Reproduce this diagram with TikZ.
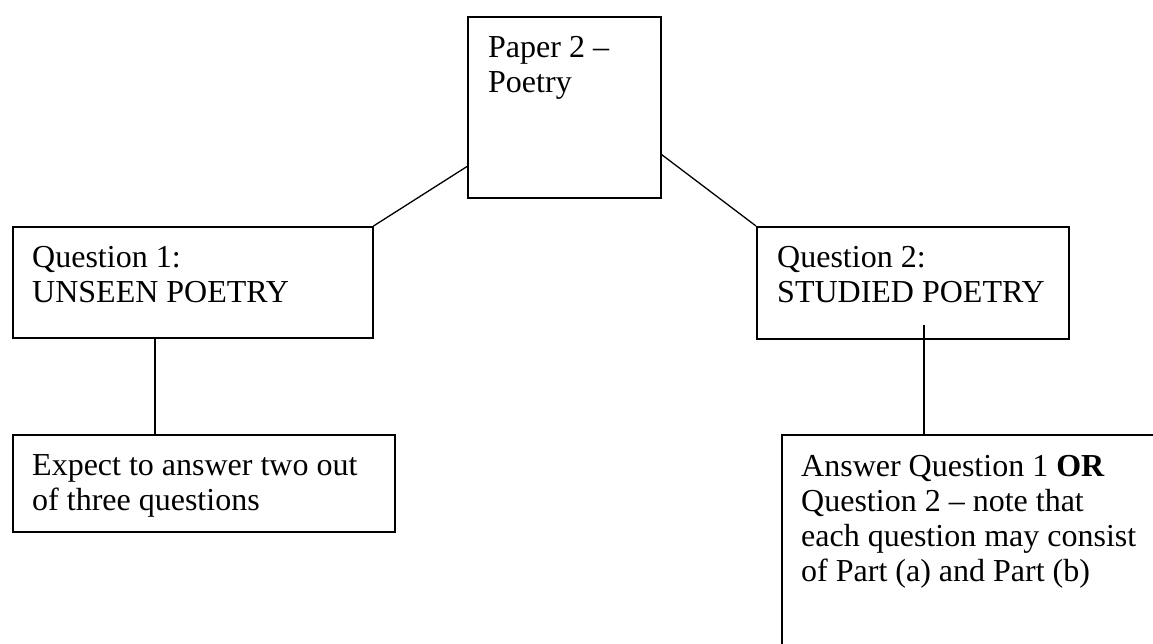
\documentclass[tikz,border=0pt]{standalone}
\usepackage{fontspec}
\setmainfont{Liberation Serif}
\usetikzlibrary{calc}
\tikzset{
  boxnode/.style={draw=black, line width=1.5pt, rectangle, inner sep=0pt, anchor=north west, fill=none},
  txt/.style={align=left, inner sep=0pt, anchor=base west, font=\fontsize{32}{35}\selectfont},
  conn/.style={draw=black, line width=1.3pt}
}
\begin{document}
\begin{tikzpicture}[x=1pt,y=-1pt]
\useasboundingbox (0,0) rectangle (1153,643);
\fill[white] (0,0) rectangle (1153,643);
\node[boxnode, minimum width=193pt, minimum height=181pt] (top) at (467,16) {};
\node[boxnode, minimum width=360pt, minimum height=111pt] (q1) at (12,226) {};
\node[boxnode, minimum width=312pt, minimum height=112pt] (q2) at (756,226) {};
\node[boxnode, minimum width=382pt, minimum height=97pt] (exp) at (12,434) {};
\node[boxnode, minimum width=420pt, minimum height=240pt] (ans) at (781,434) {};
% anchor = baseline of the last line
\node[txt] (toptext) at ($(top.north west)+(21,76)$) {Paper 2 –\\Poetry};
\node[txt] (q1text) at ($(q1.north west)+(20,76)$) {Question 1:\\UNSEEN POETRY};
\node[txt] (q2text) at ($(q2.north west)+(21,76)$) {Question 2:\\STUDIED POETRY};
\node[txt] (exptext) at ($(exp.north west)+(20,76)$) {Expect to answer two out\\of three questions};
\node[txt] (anstext) at ($(ans.north west)+(20,147)$) {Answer Question 1 \textbf{OR}\\Question 2 – note that\\each question may consist\\of Part (a) and Part (b)};
\draw[conn] ($(top.south west)+(0,-32)$) -- (q1.north east);
\draw[conn] ($(top.south east)+(0,-44)$) -- (q2.north west);
\coordinate (a1) at ($(q1.south west)+(143,0)$);
\draw[conn] (a1) -- (a1 |- exp.north);
\coordinate (a2) at ($(q2.south west)+(168,-15)$);
\draw[conn] (a2) -- (a2 |- ans.north);
\end{tikzpicture}
\end{document}
